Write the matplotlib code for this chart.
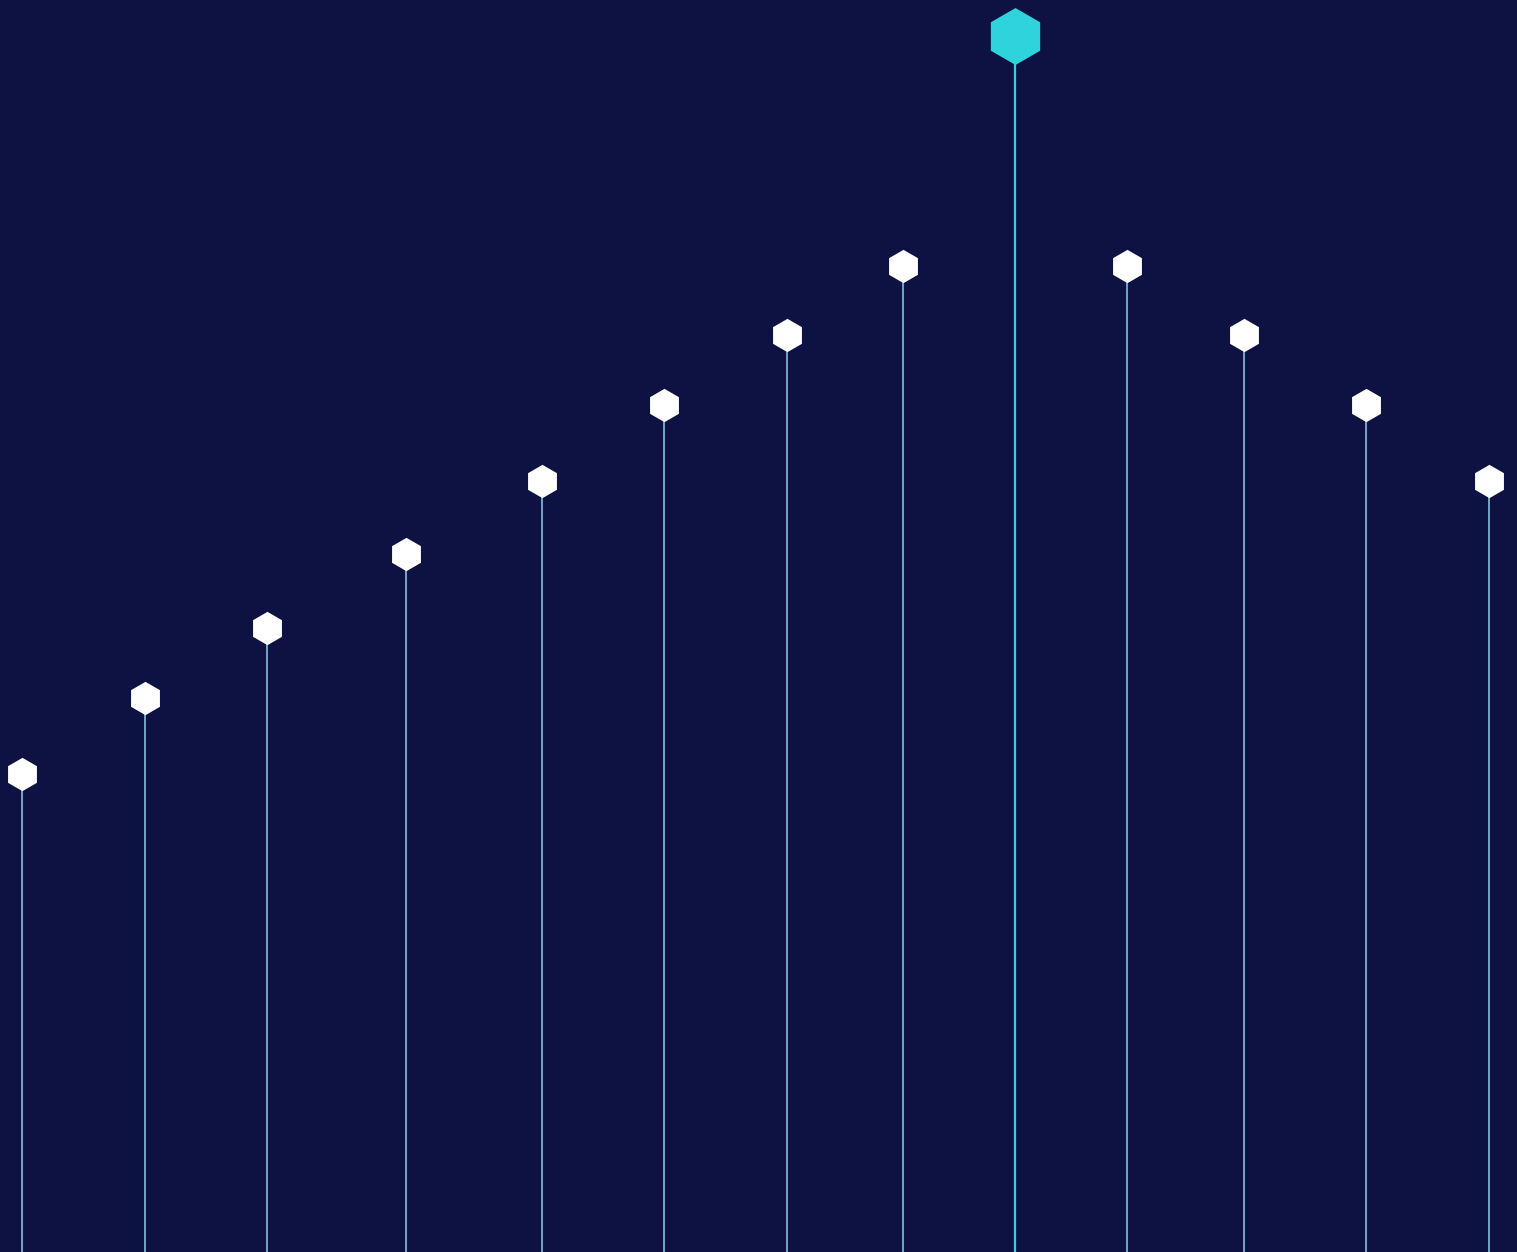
import numpy as np
import matplotlib
matplotlib.use('Agg')
import matplotlib.pyplot as plt

# stem positions and heights (arbitrary units)
xpos = [2.2, 14.5, 26.7, 40.6, 54.2, 66.4, 78.7, 90.3, 101.5, 112.7, 124.4, 136.6, 148.9]
values = [47.8, 55.4, 62.4, 69.8, 77.1, 84.7, 91.7, 98.6, 121.6, 98.6, 91.7, 84.7, 77.1]
peak = int(np.argmax(values))

bg = '#0d1242'
stem_col = '#8ccfe8'
hi_col = '#2ed3dc'

fig = plt.figure(figsize=(15.17, 12.52), dpi=100, facecolor=bg)
ax = fig.add_axes([0, 0, 1, 1])
ax.set_facecolor(bg)

for i, (x, v) in enumerate(zip(xpos, values)):
    if i == peak:
        ax.vlines(x, 0, v, color=hi_col, linewidth=1.6, zorder=2)
        ax.plot(x, v, marker='h', markersize=41, color=hi_col, markeredgewidth=0, zorder=3)
    else:
        ax.vlines(x, 0, v, color=stem_col, linewidth=1.1, zorder=2)
        ax.plot(x, v, marker='h', markersize=24, color='white', markeredgewidth=0, zorder=3)

ax.set_xlim(0, 151.7)
ax.set_ylim(0, 125.2)
ax.axis('off')

fig.savefig('out.png', dpi=100, facecolor=bg)
